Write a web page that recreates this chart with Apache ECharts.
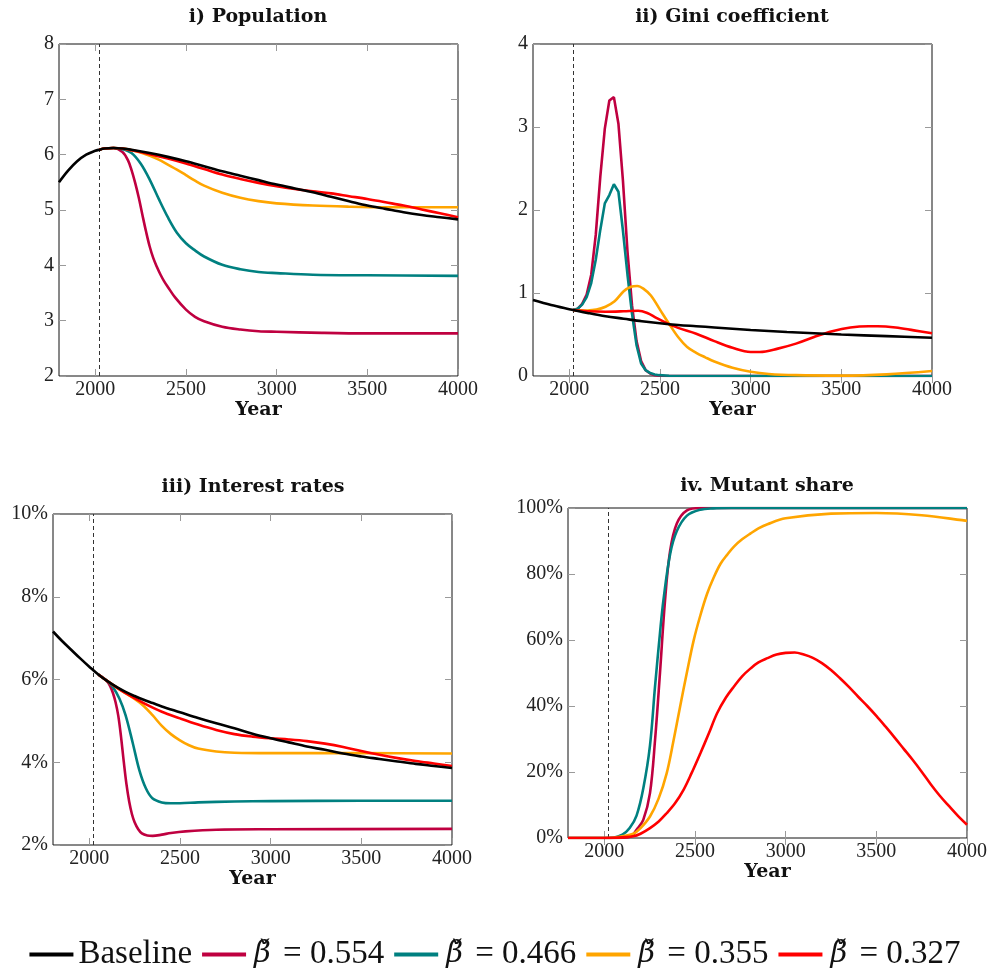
<!DOCTYPE html>
<html>
<head>
<meta charset="utf-8">
<script src="https://cdn.jsdelivr.net/npm/echarts@6/dist/echarts.min.js"></script>
<style>
html,body{margin:0;padding:0;background:#fff;}
#chart{width:990px;height:973px;}
</style>
</head>
<body>
<div id="chart"></div>
<script>
// ---------- legend / series names ----------
const seriesNames = ['Baseline', 'β̌ = 0.554', 'β̌ = 0.466', 'β̌ = 0.355', 'β̌ = 0.327'];
const seriesColors = ['#000000', '#BF0040', '#008080', '#FFA500', '#FF0000'];
const panelTitles = ['i) Population', 'ii) Gini coefficient', 'iii) Interest rates', 'iv. Mutant share'];
const xTickValues = [2000, 2500, 3000, 3500, 4000];
const policyYear = 2022;

// ---------- i) Population ----------
const popBaseX = [1800,1850,1900,1950,2000,2022,2050,2100,2150,2200,2300,2400,2500,2600,2700,2800,2900,3000,3100,3200,3300,3400,3500,3600,3700,3800,3900,4000];
const popBaseY = [5.50,5.71,5.88,6.00,6.07,6.09,6.11,6.12,6.11,6.09,6.03,5.96,5.88,5.79,5.70,5.62,5.54,5.46,5.39,5.32,5.24,5.16,5.08,5.02,4.96,4.91,4.87,4.83];
const popCrimsonX = [2022,2050,2100,2150,2180,2200,2220,2240,2260,2280,2300,2320,2340,2360,2380,2400,2440,2500,2550,2600,2700,2800,2900,3000,3250,3500,4000];
const popCrimsonY = [6.09,6.11,6.12,6.05,5.90,5.72,5.49,5.22,4.91,4.61,4.34,4.13,3.97,3.83,3.71,3.61,3.42,3.20,3.07,2.99,2.89,2.84,2.81,2.80,2.78,2.77,2.77];
const popTealX = [2022,2050,2100,2150,2200,2250,2300,2350,2400,2450,2500,2550,2600,2700,2800,2900,3000,3200,3500,4000];
const popTealY = [6.09,6.11,6.12,6.10,6.03,5.84,5.55,5.20,4.87,4.59,4.40,4.27,4.16,4.01,3.93,3.88,3.86,3.83,3.82,3.81];
const popOrangeX = [2022,2050,2100,2150,2200,2250,2300,2350,2400,2450,2500,2550,2600,2700,2800,2900,3000,3200,3400,3600,3800,4000];
const popOrangeY = [6.09,6.11,6.12,6.11,6.08,6.04,5.98,5.91,5.82,5.73,5.63,5.53,5.44,5.31,5.22,5.16,5.12,5.08,5.06,5.05,5.05,5.05];
const popRedX = [2022,2050,2100,2150,2200,2300,2400,2500,2600,2700,2800,2900,3000,3100,3200,3300,3400,3500,3600,3700,3800,3900,4000];
const popRedY = [6.09,6.11,6.12,6.11,6.08,6.01,5.93,5.84,5.74,5.64,5.56,5.49,5.43,5.38,5.34,5.30,5.25,5.20,5.14,5.08,5.01,4.94,4.87];

// ---------- ii) Gini coefficient ----------
const giniBaseX = [1800,1900,2000,2022,2100,2200,2300,2400,2500,2600,2700,2800,3000,3200,3500,3750,4000];
const giniBaseY = [0.915,0.855,0.805,0.795,0.76,0.72,0.69,0.66,0.635,0.615,0.60,0.585,0.555,0.53,0.50,0.48,0.46];
const giniPeakX = [2021,2046,2071,2096,2121,2146,2171,2196,2221,2246,2271,2296,2321,2346,2371,2396,2421,2446,2471,2496,2550,3000,4000];
const giniCrimsonY = [0.795,0.81,0.87,0.98,1.22,1.70,2.40,2.98,3.32,3.36,3.04,2.35,1.50,0.85,0.42,0.18,0.07,0.03,0.01,0.003,0,0,0];
const giniTealY = [0.795,0.81,0.86,0.95,1.12,1.40,1.76,2.08,2.18,2.31,2.22,1.75,1.22,0.75,0.37,0.15,0.07,0.035,0.018,0.01,0.003,0,0];
const giniOrangeX = [2022,2100,2150,2200,2250,2300,2340,2375,2410,2450,2500,2550,2600,2650,2700,2750,2800,2900,3000,3100,3250,3500,3750,4000];
const giniOrangeY = [0.795,0.79,0.80,0.835,0.90,1.02,1.075,1.085,1.05,0.97,0.80,0.63,0.47,0.35,0.28,0.225,0.175,0.10,0.052,0.025,0.01,0.005,0.02,0.06];
const giniRedX = [2022,2100,2200,2300,2380,2430,2480,2530,2600,2700,2800,2900,3000,3050,3150,3250,3350,3450,3550,3650,3700,3800,3900,4000];
const giniRedY = [0.795,0.78,0.775,0.78,0.787,0.76,0.70,0.645,0.58,0.51,0.42,0.34,0.29,0.29,0.33,0.39,0.47,0.54,0.585,0.60,0.60,0.585,0.55,0.515];

// ---------- iii) Interest rates (%) ----------
const intBaseX = [1800,1850,1900,1950,2000,2050,2100,2150,2200,2250,2300,2350,2400,2500,2600,2700,2800,2900,3000,3100,3200,3300,3400,3500,3600,3700,3800,3900,4000];
const intBaseY = [7.16,6.93,6.72,6.51,6.31,6.12,5.96,5.82,5.70,5.60,5.51,5.43,5.35,5.21,5.07,4.94,4.82,4.69,4.58,4.48,4.38,4.30,4.21,4.14,4.08,4.02,3.96,3.91,3.86];
const intCrimsonX = [2050,2080,2100,2115,2130,2145,2160,2175,2190,2205,2220,2235,2250,2270,2290,2320,2350,2400,2450,2530,2700,3000,4000];
const intCrimsonY = [6.12,6.03,5.95,5.84,5.68,5.45,5.12,4.62,4.02,3.47,3.05,2.75,2.55,2.38,2.28,2.23,2.22,2.25,2.29,2.33,2.37,2.38,2.39];
const intTealX = [2050,2075,2100,2130,2166,2200,2240,2276,2312,2348,2400,2450,2500,2600,2800,3000,3500,4000];
const intTealY = [6.12,6.04,5.96,5.82,5.54,5.14,4.46,3.81,3.37,3.13,3.03,3.01,3.01,3.03,3.05,3.06,3.07,3.07];
const intOrangeX = [2050,2100,2150,2200,2250,2300,2350,2400,2450,2500,2550,2600,2700,2800,3000,3500,4000];
const intOrangeY = [6.12,5.96,5.81,5.67,5.53,5.36,5.13,4.88,4.68,4.53,4.41,4.33,4.26,4.23,4.22,4.22,4.21];
const intRedX = [2050,2100,2150,2200,2300,2400,2500,2600,2700,2800,2900,3000,3100,3200,3300,3400,3500,3600,3700,3800,3900,4000];
const intRedY = [6.12,5.96,5.81,5.67,5.43,5.22,5.06,4.91,4.78,4.68,4.62,4.58,4.55,4.51,4.45,4.37,4.27,4.18,4.10,4.03,3.97,3.91];

// ---------- iv. Mutant share (%) ----------
const mutCrimsonX = [1800,2000,2100,2150,2178,2215,2252,2280,2307,2335,2363,2400,2456,2530,2600,4000];
const mutCrimsonY = [0,0,0.1,0.6,2.5,5.5,13.6,29.7,49.9,72,87,95.3,99.3,100,100,100];
const mutTealX = [1800,2000,2050,2100,2140,2178,2215,2252,2280,2307,2326,2363,2400,2456,2530,2600,2700,4000];
const mutTealY = [0,0,0.1,1.0,3.0,6.8,15,28,46,62,72,86,93,97.7,99.5,99.9,100,100];
const mutOrangeX = [1800,2000,2050,2100,2160,2200,2252,2300,2344,2380,2418,2455,2493,2530,2567,2604,2641,2680,2715,2760,2807,2850,2900,3000,3250,3500,3750,4000];
const mutOrangeY = [0,0,0.1,0.5,1.3,3,6.5,12,19.6,29,39.8,50,59.9,67.5,74,79,83.1,86.0,88.3,90.5,92.3,93.8,95.1,96.9,98.3,98.5,97.8,96.1];
const mutRedX = [1800,2000,2050,2100,2160,2200,2252,2300,2344,2390,2437,2480,2530,2575,2622,2670,2715,2760,2807,2850,2900,2950,3000,3050,3100,3150,3200,3250,3300,3350,3400,3450,3500,3550,3600,3650,3700,3750,3800,3850,3900,3950,4000];
const mutRedY = [0,0,0.05,0.2,0.5,1.3,3,5,7.5,10.5,14.6,19.5,25.7,31.5,37.8,42.5,45.9,49,51.4,53.2,54.5,55.6,56.1,56.2,55.6,54.6,53.0,50.9,48.4,45.7,42.8,40.0,37.0,33.8,30.5,27.1,23.7,20.1,16.3,12.8,9.7,6.7,4.0];

// ---------- layout ----------
const grids = [
  {left: 59, top: 44, width: 399, height: 332},
  {left: 533, top: 44, width: 399, height: 332},
  {left: 53, top: 514, width: 399, height: 331},
  {left: 568, top: 508, width: 399, height: 330}
];
const yRanges = [
  {min: 2, max: 8, interval: 1, pct: false},
  {min: 0, max: 4, interval: 1, pct: false},
  {min: 2, max: 10, interval: 2, pct: true},
  {min: 0, max: 100, interval: 20, pct: true}
];
const serifFont = 'Liberation Serif';
const boldFont = 'DejaVu Serif';

const zip = (xs, ys) => xs.map((x, i) => [x, ys[i]]);

function lineSeries(panel, idx, xs, ys, smooth, extra) {
  return Object.assign({
    type: 'line',
    name: seriesNames[idx],
    xAxisIndex: panel,
    yAxisIndex: panel,
    data: zip(xs, ys),
    showSymbol: false,
    symbol: 'none',
    smooth: smooth,
    clip: true,
    lineStyle: {width: 2.6, color: seriesColors[idx]},
    itemStyle: {color: seriesColors[idx]},
    z: 2 + (idx === 0 ? 5 : idx),
    emphasis: {disabled: true}
  }, extra || {});
}

const dashLine = {
  silent: true,
  symbol: ['none', 'none'],
  label: {show: false},
  lineStyle: {type: [4, 3], color: '#333', width: 1},
  data: [{xAxis: policyYear}]
};

const S = 0.35;
const series = [
  // panel 0
  lineSeries(0, 1, popCrimsonX, popCrimsonY, S),
  lineSeries(0, 2, popTealX, popTealY, S),
  lineSeries(0, 3, popOrangeX, popOrangeY, S),
  lineSeries(0, 4, popRedX, popRedY, S),
  lineSeries(0, 0, popBaseX, popBaseY, S, {markLine: dashLine}),
  // panel 1
  lineSeries(1, 1, giniPeakX, giniCrimsonY, false),
  lineSeries(1, 2, giniPeakX, giniTealY, false),
  lineSeries(1, 3, giniOrangeX, giniOrangeY, S),
  lineSeries(1, 4, giniRedX, giniRedY, S),
  lineSeries(1, 0, giniBaseX, giniBaseY, S, {markLine: dashLine}),
  // panel 2
  lineSeries(2, 1, intCrimsonX, intCrimsonY, S),
  lineSeries(2, 2, intTealX, intTealY, S),
  lineSeries(2, 3, intOrangeX, intOrangeY, S),
  lineSeries(2, 4, intRedX, intRedY, S),
  lineSeries(2, 0, intBaseX, intBaseY, S, {markLine: dashLine}),
  // panel 3
  lineSeries(3, 1, mutCrimsonX, mutCrimsonY, S, {markLine: dashLine}),
  lineSeries(3, 2, mutTealX, mutTealY, S),
  lineSeries(3, 3, mutOrangeX, mutOrangeY, S),
  lineSeries(3, 4, mutRedX, mutRedY, S)
];

const tickStyle = {show: true, inside: true, length: 7, lineStyle: {color: '#9a9a9a', width: 1}};
const xAxes = [], yAxes = [];
for (let i = 0; i < 4; i++) {
  xAxes.push({
    type: 'value', gridIndex: i, position: 'bottom', min: 1800, max: 4000,
    axisLine: {show: false}, splitLine: {show: false},
    axisTick: Object.assign({customValues: xTickValues}, tickStyle),
    axisLabel: {customValues: xTickValues, fontFamily: serifFont, fontSize: 20, color: '#222', margin: 4,
      formatter: v => String(v)},
    name: 'Year', nameLocation: 'middle', nameGap: 24,
    nameTextStyle: {fontFamily: boldFont, fontWeight: 'bold', fontSize: 19, color: '#111'}
  });
}
for (let i = 0; i < 4; i++) {
  xAxes.push({
    type: 'value', gridIndex: i, position: 'top', min: 1800, max: 4000,
    axisLine: {show: false}, splitLine: {show: false},
    axisTick: Object.assign({customValues: xTickValues}, tickStyle),
    axisLabel: {show: false}
  });
}
for (let i = 0; i < 4; i++) {
  const r = yRanges[i];
  yAxes.push({
    type: 'value', gridIndex: i, position: 'left', min: r.min, max: r.max, interval: r.interval,
    axisLine: {show: false}, splitLine: {show: false},
    axisTick: tickStyle,
    axisLabel: {fontFamily: serifFont, fontSize: 20, color: '#222', margin: 5,
      formatter: r.pct ? (v => String(v) + '%') : (v => String(v))}
  });
}
for (let i = 0; i < 4; i++) {
  const r = yRanges[i];
  yAxes.push({
    type: 'value', gridIndex: i, position: 'right', min: r.min, max: r.max, interval: r.interval,
    axisLine: {show: false}, splitLine: {show: false},
    axisTick: tickStyle,
    axisLabel: {show: false}
  });
}

const titleCenters = [[258, 8], [732, 8], [253, 478], [767, 477]];
const titles = panelTitles.map((t, i) => ({
  text: t, left: titleCenters[i][0], top: titleCenters[i][1], textAlign: 'center', padding: 0,
  textStyle: {fontFamily: boldFont, fontWeight: 'bold', fontSize: 19, color: '#111'}
}));

const option = {
  animation: false,
  backgroundColor: '#fff',
  title: titles,
  grid: grids.map(g => Object.assign({show: true, borderColor: '#111', borderWidth: 1, backgroundColor: 'transparent', containLabel: false}, g)),
  xAxis: xAxes,
  yAxis: yAxes,
  legend: {
    data: seriesNames,
    top: 933, left: 'center',
    icon: 'rect', itemWidth: 44, itemHeight: 4, itemGap: 10,
    selectedMode: false,
    formatter: function (name) {
      if (name === 'Baseline') return '{r|' + name + '}';
      return '{b|β̌}{r| = ' + name.slice(name.indexOf('=') + 2) + '}';
    },
    textStyle: {
      fontFamily: serifFont, fontSize: 33, color: '#111',
      rich: {
        b: {fontFamily: 'DejaVu Serif', fontStyle: 'italic', fontSize: 29, color: '#111', padding: [0, 4, 0, 3]},
        r: {fontFamily: serifFont, fontSize: 33, color: '#111'}
      }
    }
  },
  series: series
};

const chart = echarts.init(document.getElementById('chart'), null, {renderer: 'canvas'});
chart.setOption(option);
</script>
</body>
</html>
